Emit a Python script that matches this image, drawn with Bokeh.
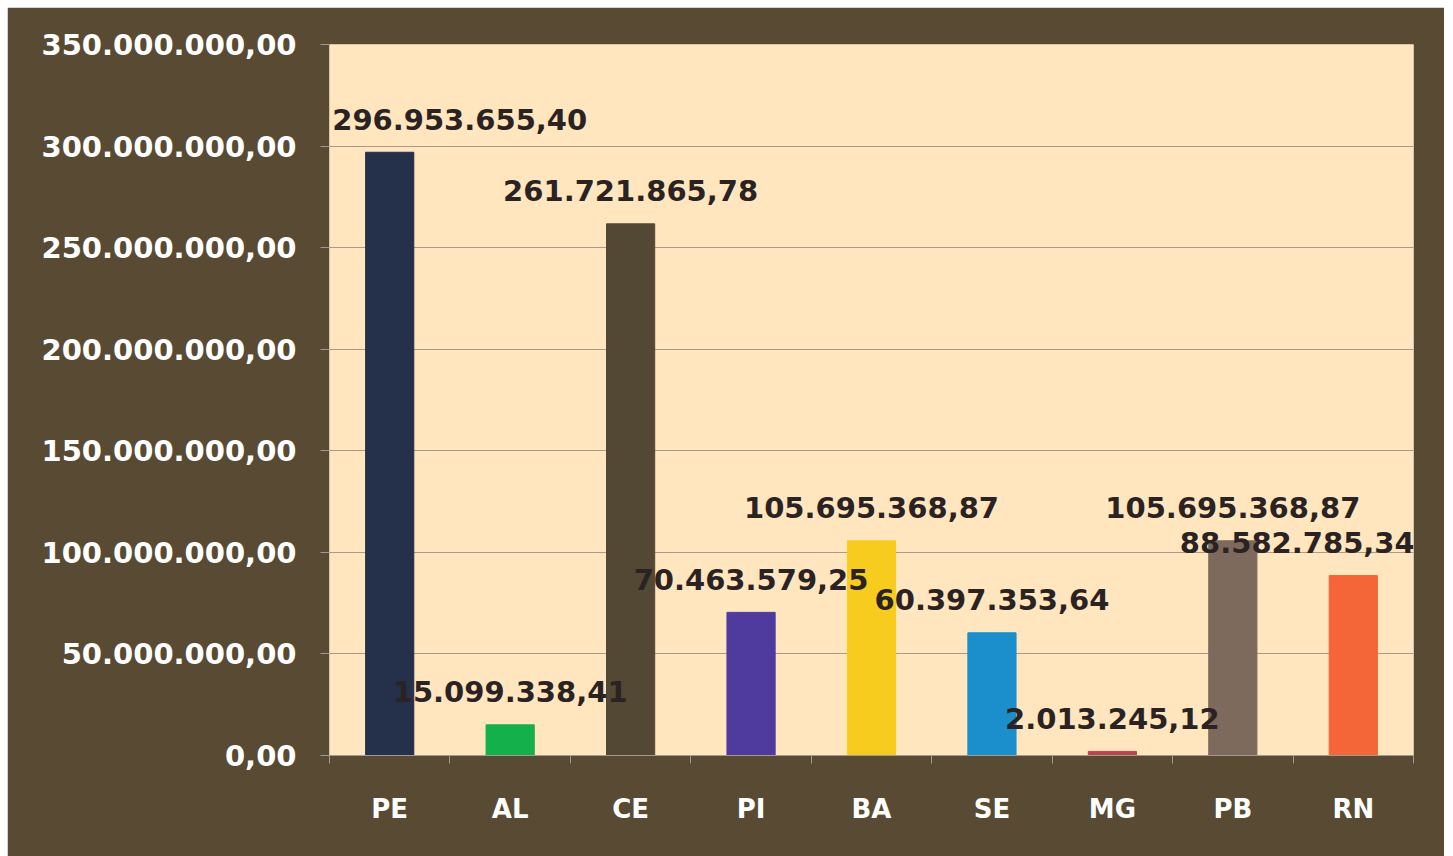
from bokeh.plotting import figure
from bokeh.models import (Range1d, FixedTicker, Label)
from bokeh.embed import file_html
from bokeh.resources import INLINE

states = ["PE", "AL", "CE", "PI", "BA", "SE", "MG", "PB", "RN"]
values = [296953655.40, 15099338.41, 261721865.78, 70463579.25, 105695368.87,
          60397353.64, 2013245.12, 105695368.87, 88582785.34]
bar_colors = ["#25304a", "#14b04c", "#524833", "#4f3b9e", "#f8cc1e",
              "#1b8ecc", "#b8474a", "#7e6a5c", "#f46537"]
y_ticks = [0, 50000000, 100000000, 150000000, 200000000, 250000000, 300000000, 350000000]


def br(v):
    s = f"{v:,.2f}"
    return s.replace(",", "X").replace(".", ",").replace("X", ".")


labels = [br(v) for v in values]
n = len(states)
centers = [i + 0.5 for i in range(n)]   # category slot centres
bounds = list(range(n + 1))             # category slot boundaries
# horizontal nudges (px) so the edge labels stay inside the plot frame
label_dx = [70, 0, 0, 0, 0, 0, 0, 0, -56]

BG = "#594a33"

p = figure(x_range=Range1d(0, n), y_range=Range1d(0, 350000000),
           width=1437, height=849, output_backend="svg", toolbar_location=None,
           min_border_left=322, min_border_right=31,
           min_border_top=37, min_border_bottom=101)
p.margin = (7, 0, 0, 7)
p.border_fill_color = BG
p.background_fill_color = "#ffe6be"
p.outline_line_color = None

p.vbar(x=centers, top=values, width=0.4, color=bar_colors)

xa = p.xaxis[0]
xa.ticker = FixedTicker(ticks=centers, minor_ticks=bounds)
xa.major_label_overrides = {c: s for c, s in zip(centers, states)}
xa.axis_line_color = "#a09a90"
xa.major_tick_line_color = None
xa.major_tick_in = 0
xa.major_tick_out = 0
xa.minor_tick_line_color = "#a09a90"
xa.minor_tick_in = 0
xa.minor_tick_out = 8
xa.major_label_text_color = "white"
xa.major_label_text_font = "DejaVu Sans"
xa.major_label_text_font_style = "bold"
xa.major_label_text_font_size = "26px"
xa.major_label_standoff = 30

ya = p.yaxis[0]
ya.ticker = FixedTicker(ticks=y_ticks)
ya.major_label_overrides = {t: br(t) for t in y_ticks}
ya.major_label_text_color = "white"
ya.major_label_text_font = "DejaVu Sans"
ya.major_label_text_font_style = "bold"
ya.major_label_text_font_size = "29px"
ya.major_label_standoff = 24
ya.axis_line_color = None
ya.major_tick_line_color = "#a09a90"
ya.major_tick_in = 0
ya.major_tick_out = 9
ya.minor_tick_line_color = None

p.xgrid.grid_line_color = None
p.ygrid.ticker = FixedTicker(ticks=y_ticks[:-1])
p.ygrid.grid_line_color = "#a89a8c"
p.ygrid.grid_line_width = 1

for cx, v, lab, dx in zip(centers, values, labels, label_dx):
    p.add_layout(Label(x=cx, y=v, text=lab, x_offset=dx, y_offset=33,
                       text_align="center", text_baseline="middle",
                       text_font="DejaVu Sans", text_font_style="bold",
                       text_font_size="29px", text_color="#2b2323"))

open("out.html", "w").write(file_html(p, INLINE))
